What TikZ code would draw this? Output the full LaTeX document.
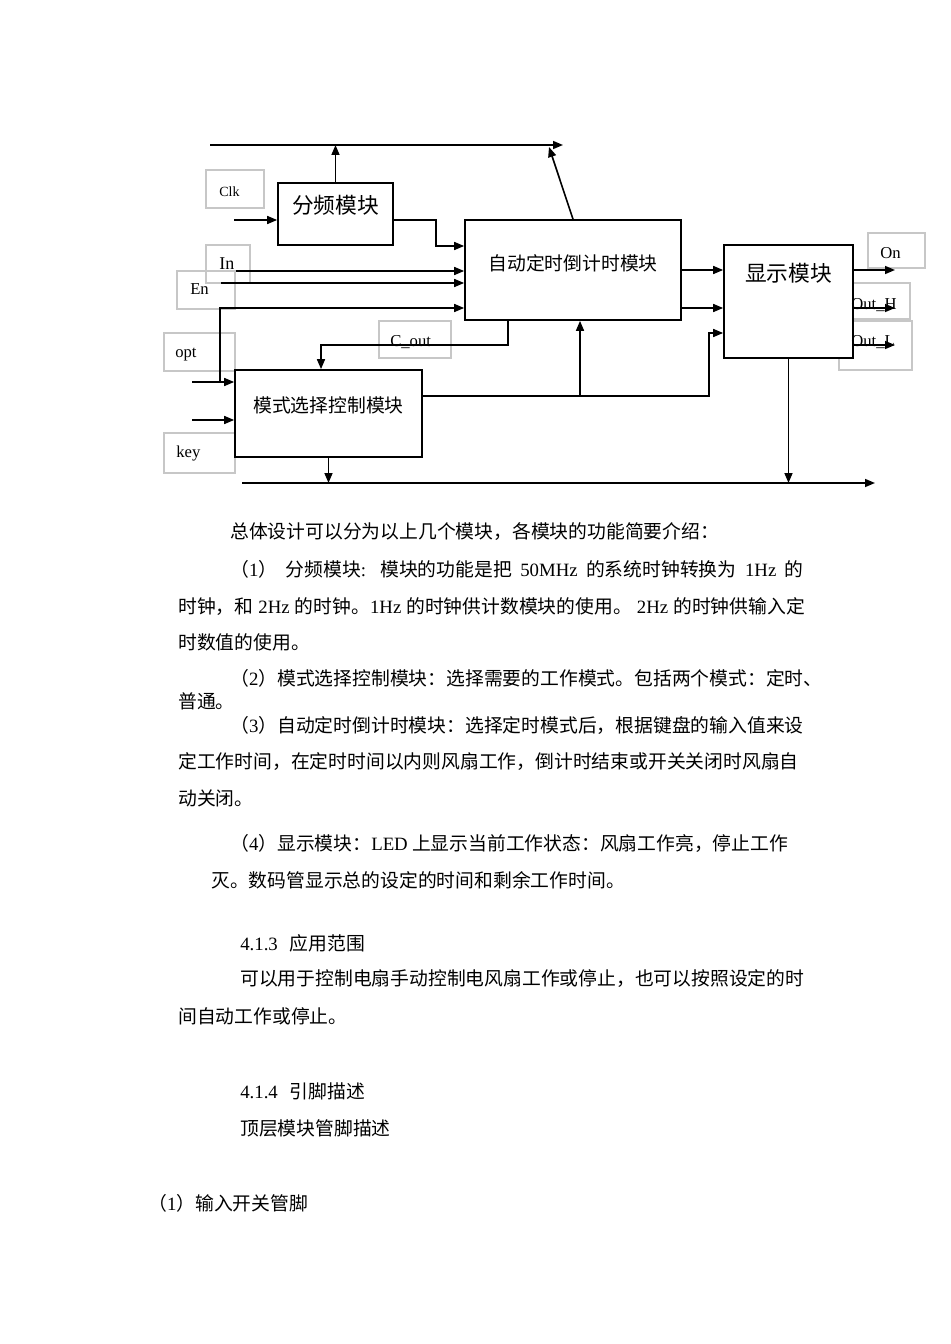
\documentclass[tikz,border=0pt]{standalone}
\usepackage{fontspec}
\setmainfont{Noto Sans CJK SC}
\newfontfamily\lat{Liberation Serif}
\usepackage{tikz}
\usetikzlibrary{positioning,arrows.meta,fit}
\newcommand{\bodysize}{\fontsize{14.1}{14.1}\selectfont}
\newcommand{\bigsize}{\fontsize{16.3}{16.3}\selectfont}

\begin{document}
\begin{tikzpicture}[x=0.75pt,y=-0.75pt,
  blk/.style={draw,line width=1.3pt,inner sep=0pt,fill=white},
  tbox/.style={draw=black!22,line width=0.8pt,inner sep=0pt},
  pin/.style={font=\lat\fontsize{12.5}{12.5}\selectfont,inner sep=0pt,anchor=base west},
  sig/.style={line width=1.2pt,-{Triangle[length=7.5pt,width=6pt]}},
  para/.style={font=\bodysize,inner sep=0pt,anchor=base west}]
  \useasboundingbox (0,0) rectangle (950,1344);

  % text boxes of the pin names
  \node[tbox,fit={(206,170) (264,208)}] (clkbox) {};
  \node[tbox,fit={(206,245) (250,283)}] (inbox) {};
  \node[tbox,fit={(177,271) (235,309)}] (enbox) {};
  \node[tbox,fit={(164,333) (235,371)}] (optbox) {};
  \node[tbox,fit={(164,433) (235,473)}] (keybox) {};
  \node[tbox,fit={(379,321) (451,358)}] (coutbox) {};
  \node[tbox,fit={(868,233) (925,268)}] (onbox) {};
  \node[tbox,fit={(845,283) (910,319)}] (outhbox) {};
  \node[tbox,fit={(839,321) (912,370)}] (outlbox) {};

  % modules
  \node[blk,font=\bigsize,fit={(278,183) (393,245)}] (fenpin) {分频模块};
  \node[blk,fit={(465,220) (681,320)},
    label={[font=\bodysize,yshift=5pt]center:自动定时倒计时模块}] (daoji) {};
  \node[blk,fit={(724,245) (853,358)},
    label={[font=\bigsize,yshift=21pt]center:显示模块}] (xianshi) {};
  \node[blk,font=\bodysize,fit={(235,370) (422,457)}] (moshi) {模式选择控制模块};

  % pin names
  \node[pin,font=\lat\fontsize{10.5}{10.5}\selectfont] (clk) at (219,197) {Clk};
  \node[pin,font=\lat\fontsize{13.5}{13.5}\selectfont] (pinin) at (219,270) {In};
  \node[pin] (en) at (190,295) {En};
  \node[pin] (opt) at (175,357) {opt};
  \node[pin] (key) at (176,457) {key};
  \node[pin] (cout) at (390,346) {C\_out};
  \node[pin] (on) at (880,259) {On};
  \node[pin] (outh) at (851,310) {Out\_H};
  \node[pin] (outl) at (851,346) {Out\_L};

  % buses
  \coordinate (busL) at (210,145);
  \coordinate (busR) at (563,145);
  \coordinate (busTap) at (549,147);
  \coordinate (botL) at (242,483);
  \coordinate (botR) at (875,483);
  \draw[sig] (busL) -- (busR);
  \draw[sig] (botL) -- (botR);

  % inputs
  \coordinate (clkIn) at (234,220);
  \coordinate (inIn) at (236,271);
  \coordinate (enIn) at (221,283);
  \coordinate (optIn) at (192,382);
  \coordinate (optTap) at (220,382);
  \coordinate (keyIn) at (192,420);
  \draw[sig] (clkIn) -- (clkIn -| fenpin.west);
  \draw[sig] (inIn) -- (inIn -| daoji.west);
  \draw[sig] (enIn) -- (enIn -| daoji.west);
  \draw[sig] (optIn) -- (optIn -| moshi.west);
  \draw[sig] (optTap) |- (daoji.west |- 0,308);
  \draw[sig] (keyIn) -- (keyIn -| moshi.west);

  % between modules
  \draw[sig] (fenpin.north) -- (fenpin.north |- busL);
  \draw[sig] (daoji.north) -- (busTap);
  \draw[sig] (clkIn -| fenpin.east) -- (436,220) |- (daoji.west |- 0,246);
  \draw[sig] (daoji.south -| 508,0) |- (321,345) -- (moshi.north -| 321,0);
  \draw[sig] (moshi.east |- 0,396) -| (709,333) -- (xianshi.west |- 0,333);
  \draw[sig] (580,396) -- (daoji.south -| 580,0);
  \draw[sig] (moshi.south) -- (moshi.south |- botL);
  \draw[sig] (daoji.east) -- (daoji.east -| xianshi.west);
  \draw[sig] (daoji.east |- 0,308) -- (xianshi.west |- 0,308);
  \draw[sig] (xianshi.south) -- (xianshi.south |- botL);

  % outputs
  \coordinate (onOut) at (895,270);
  \coordinate (outhOut) at (895,308);
  \coordinate (outlOut) at (895,345);
  \draw[sig] (xianshi.east |- onOut) -- (onOut);
  \draw[sig] (xianshi.east |- outhOut) -- (outhOut);
  \draw[sig] (xianshi.east |- outlOut) -- (outlOut);

  % text below the picture
  \node[para] (l1) at (230,538.7) {总体设计可以分为以上几个模块，各模块的功能简要介绍：};
  \node[para] (l2) at (230,576.3) {\makebox[430pt][s]{（{\lat 1}） 分频模块{\lat :} 模块的功能是把 {\lat 50MHz} 的系统时钟转换为 {\lat 1Hz} 的}};
  \node[para] (l3) at (178,613) {\makebox[470pt][s]{时钟，和 {\lat 2Hz} 的时钟。{\lat 1Hz} 的时钟供计数模块的使用。 {\lat 2Hz} 的时钟供输入定}};
  \node[para] (l4) at (178,649.7) {时数值的使用。};
  \node[para] (l5) at (230,685.3) {（{\lat 2}）模式选择控制模块：选择需要的工作模式。包括两个模式：定时、};
  \node[para] (l6) at (178,708.7) {普通。};
  \node[para] (l7) at (230,732) {（{\lat 3}）自动定时倒计时模块：选择定时模式后，根据键盘的输入值来设};
  \node[para] (l8) at (178,768.7) {定工作时间，在定时时间以内则风扇工作，倒计时结束或开关关闭时风扇自};
  \node[para] (l9) at (178,805.3) {动关闭。};
  \node[para] (l10) at (230,850.3) {（{\lat 4}）显示模块：{\lat LED} 上显示当前工作状态：风扇工作亮，停止工作};
  \node[para] (l11) at (211,887) {灭。数码管显示总的设定的时间和剩余工作时间。};
  \node[para] (l12) at (240,950.3) {{\lat 4.1.3}\hspace{9pt}应用范围};
  \node[para] (l13) at (240,985.3) {可以用于控制电扇手动控制电风扇工作或停止，也可以按照设定的时};
  \node[para] (l14) at (178,1023.7) {间自动工作或停止。};
  \node[para] (l15) at (240,1098.7) {{\lat 4.1.4}\hspace{9pt}引脚描述};
  \node[para] (l16) at (240,1135.3) {顶层模块管脚描述};
  \node[para] (l17) at (148,1210.3) {（{\lat 1}）输入开关管脚};
\end{tikzpicture}
\end{document}
